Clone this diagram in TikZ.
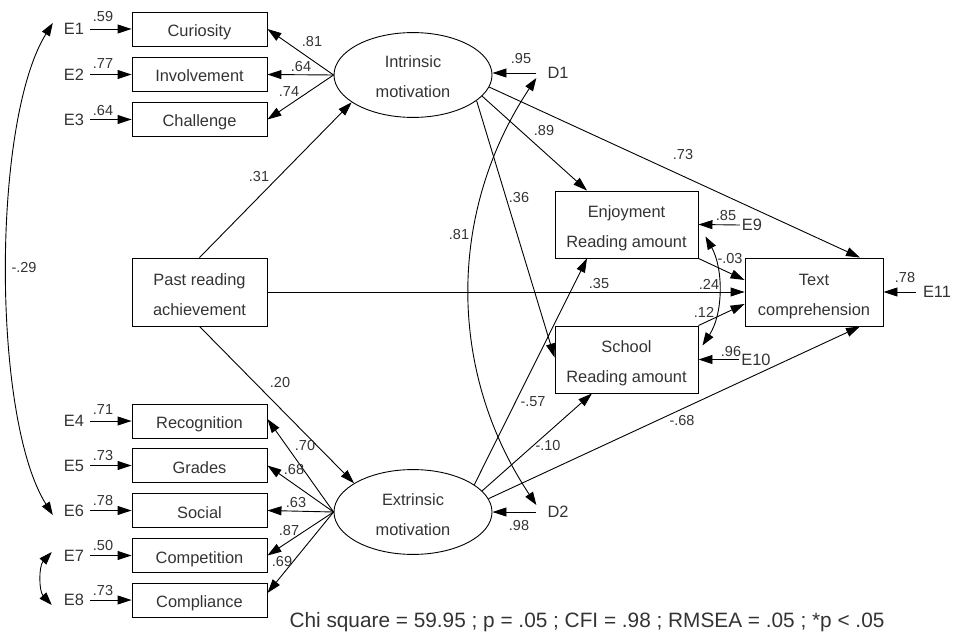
\documentclass[tikz,border=0pt]{standalone}
\usepackage{fontspec}
\setmainfont{Liberation Sans}
\usetikzlibrary{arrows.meta,shapes.geometric}
\definecolor{ink}{HTML}{333333}
\newcommand{\nodefont}{\fontsize{16.4}{30}\selectfont}
\newcommand{\numfont}{\fontsize{14.5}{17}\selectfont}
\newcommand{\fitfont}{\fontsize{20.8}{25}\selectfont}
% two centred lines, 30pt apart, set slightly low in their box
\newcommand{\twolines}[2]{\raisebox{-2pt}[\height][\depth]{\begin{tabular}{@{}c@{}}#1\\#2\end{tabular}}}

\begin{document}
\begin{tikzpicture}[x=1pt,y=-1pt,
  every node/.style={text=ink},
  obs/.style={draw, line width=0.9pt, minimum width=135pt, minimum height=34pt, inner sep=0pt, font=\nodefont, text height=15pt, text depth=0pt},
  tall/.style={draw, line width=0.9pt, minimum height=68pt, inner sep=0pt, font=\nodefont},
  latent/.style={ellipse, draw, line width=0.9pt, minimum width=158pt, minimum height=67pt, inner sep=0pt, font=\nodefont},
  err/.style={font=\nodefont, inner ysep=0pt, inner xsep=6pt},
  coef/.style={font=\numfont, inner sep=0pt},
  effect/.style={-{Triangle[length=14pt,width=9pt]}, line width=0.9pt},
  cov/.style={{Triangle[length=13pt,width=9pt]}-{Triangle[length=13pt,width=9pt]}, line width=0.9pt},
]
\useasboundingbox (0,0) rectangle (979,636);

% observed indicators
\node[obs] (cur) at (199.5,29)    {Curiosity};
\node[obs] (inv) at (199.5,74.5)  {Involvement};
\node[obs] (cha) at (199.5,119.5) {Challenge};
\node[tall, minimum width=135pt] (past) at (199.5,292) {\twolines{Past reading}{achievement}};
\node[obs] (rec) at (199.5,421)   {Recognition};
\node[obs] (gra) at (199.5,465.5) {Grades};
\node[obs] (soc) at (199.5,510.5) {Social};
\node[obs] (com) at (199.5,555.5) {Competition};
\node[obs] (cmp) at (199.5,600)   {Compliance};

% latent factors
\node[latent] (intr) at (413,75)  {\twolines{Intrinsic}{motivation}};
\node[latent] (extr) at (413,512) {\twolines{Extrinsic}{motivation}};

% outcomes
\node[tall, minimum width=143pt, minimum height=67pt] (enj) at (626.5,224.5) {\twolines{Enjoyment}{Reading amount}};
\node[tall, minimum width=143pt, minimum height=67pt] (sch) at (626.5,359.5) {\twolines{School}{Reading amount}};
\node[tall, minimum width=138pt] (txt) at (814,292) {\twolines{Text}{comprehension}};

% error and disturbance terms
\node[err] (e1) at (74,29)    {E1};
\node[err] (e2) at (74,74.5)  {E2};
\node[err] (e3) at (74,119.5) {E3};
\node[err] (e4) at (74,421)   {E4};
\node[err] (e5) at (74,465.5) {E5};
\node[err] (e6) at (74,510.5) {E6};
\node[err] (e7) at (74,555.5) {E7};
\node[err] (e8) at (74,600)   {E8};
\node[err, inner xsep=2pt] (e9)  at (752,225)   {E9};
\node[err, inner xsep=2pt] (e10) at (756,359.5) {E10};
\node[err, inner xsep=7pt] (e11) at (937,292)   {E11};
\node[err, inner xsep=11pt] (d1) at (558,73)  {D1};
\node[err, inner xsep=11pt] (d2) at (558,512) {D2};

% error arrows
\foreach \e/\v in {e1/cur,e2/inv,e3/cha,e4/rec,e5/gra,e6/soc,e7/com,e8/cmp}
  \draw[effect] (\e.east) -- (\v.west);
\draw[effect] (e9.west)  -- (enj.east);
\draw[effect] (e10.west) -- (sch.east);
\draw[effect] (e11.west) -- (txt.east);
\draw[effect] (d1.west) -- (d1.west -| intr.east);
\draw[effect] (d2.west) -- (extr.east);

% loadings
\draw[effect] (intr.west) -- (cur.east);
\draw[effect] (intr.west) -- (inv.east);
\draw[effect] (intr.west) -- (cha.east);
\draw[effect] (extr.west) -- ([yshift=2pt]rec.east);
\draw[effect] (extr.west) -- (gra.east);
\draw[effect] (extr.west) -- (soc.east);
\draw[effect] (extr.west) -- (com.east);
\draw[effect] (extr.west) -- ([yshift=7pt]cmp.east);

% structural paths
\draw[effect] (past.north) -- (intr.204);
\draw[effect] (past.south) -- (extr.154);
\draw[effect] (past.east) -- (txt.west);
\draw[effect] (intr.-17) -- ([xshift=-39.5pt]enj.north);
\draw[effect] (intr.-9)  -- ([xshift=46pt]txt.north);
\draw[effect] (intr.-22) -- ([yshift=2pt]sch.west);
\draw[effect] (extr.24) -- ([xshift=-39.5pt]enj.south);
\draw[effect] (extr.17) -- ([xshift=-34.5pt]sch.south);
\draw[effect] (extr.10) -- ([xshift=46pt]txt.south);
\draw[effect] (enj.south east) -- ([yshift=12pt]txt.west);
\draw[effect] (sch.north east) -- ([yshift=-12pt]txt.west);

% covariances
\draw[cov] ([xshift=-5pt,yshift=6pt]e1.west) .. controls +(-61,98) and +(-61,-97) .. ([xshift=-5pt,yshift=-4.5pt]e6.west);
\draw[cov] ([xshift=-6pt,yshift=3.5pt]e7.west) .. controls +(-13,14) and +(-13,-14) .. ([xshift=-6pt,yshift=-5pt]e8.west);
\draw[cov] ([yshift=-5pt]d1.west) .. controls +(-89,134) and +(-89,-134) .. ([yshift=7pt]d2.west);
\draw[cov] ([xshift=7pt,yshift=-12pt]enj.east) .. controls +(18,32) and +(21,-32) .. ([xshift=4pt,yshift=14pt]sch.east);

% coefficients
\node[coef] (c1)  at (103,17)  {.59};
\node[coef] (c2)  at (103,64)  {.77};
\node[coef] (c3)  at (103,111) {.64};
\node[coef] (c4)  at (103,410) {.71};
\node[coef] (c5)  at (103,456) {.73};
\node[coef] (c6)  at (103,501) {.78};
\node[coef] (c7)  at (103,546) {.50};
\node[coef] (c8)  at (103,591) {.73};
\node[coef] (c9)  at (312,42)  {.81};
\node[coef] (c10) at (301,67)  {.64};
\node[coef] (c11) at (289,92)  {.74};
\node[coef] (c12) at (305,446) {.70};
\node[coef] (c13) at (294,470) {.68};
\node[coef] (c14) at (296,503) {.63};
\node[coef] (c15) at (289,531) {.87};
\node[coef] (c16) at (282,562) {.69};
\node[coef] (c17) at (259,177) {.31};
\node[coef] (c18) at (280,383) {.20};
\node[coef] (c19) at (521,59)  {.95};
\node[coef] (c20) at (519,526) {.98};
\node[coef] (c21) at (544,131) {.89};
\node[coef] (c22) at (683,155) {.73};
\node[coef] (c23) at (519,198) {.36};
\node[coef] (c24) at (459,235) {.81};
\node[coef] (c25) at (533,402) {-.57};
\node[coef] (c26) at (548,446) {-.10};
\node[coef] (c27) at (682,421) {-.68};
\node[coef] (c28) at (730,259) {-.03};
\node[coef] (c29) at (599,284) {.35};
\node[coef] (c30) at (709,284) {.24};
\node[coef] (c31) at (704,312) {.12};
\node[coef] (c32) at (726,216) {.85};
\node[coef] (c33) at (731,352) {.96};
\node[coef] (c34) at (905,278) {.78};
\node[coef] (c35) at (24,268)  {-.29};

% fit indices
\node[font=\fitfont, inner sep=0pt] (fit) at (587,622) {Chi square = 59.95 ; p = .05 ; CFI = .98 ; RMSEA = .05 ; *p < .05};
\end{tikzpicture}
\end{document}
